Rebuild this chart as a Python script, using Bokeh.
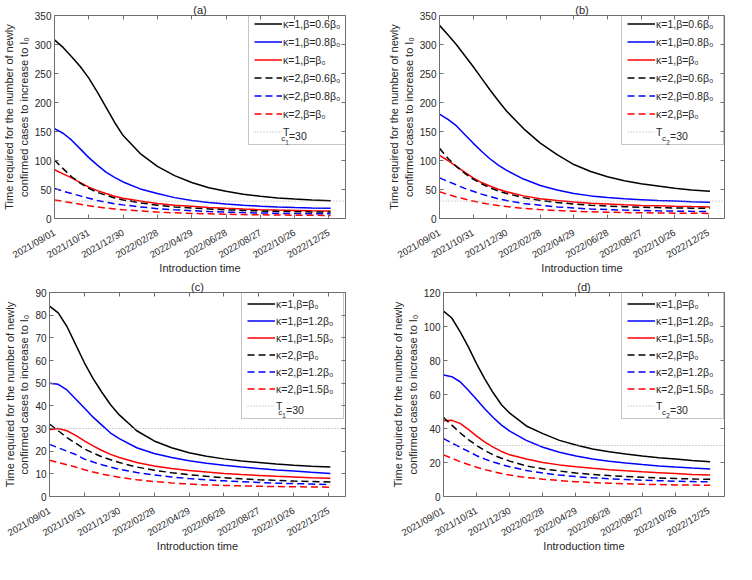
import math
import pandas as pd
from bokeh.plotting import figure
from bokeh.layouts import column, row
from bokeh.models import (Range1d, FixedTicker, DatetimeTickFormatter, LinearAxis,
                          DatetimeAxis, Legend, LegendItem, Label)
from bokeh.embed import file_html
from bokeh.resources import INLINE

# ---------------- data ----------------
START = "2021-09-01"
DAYS = [0, 15, 30, 45, 60, 75, 90, 105, 120, 150, 180, 210, 240, 270, 300, 330, 360, 390, 420, 450, 483]
X_END_DAYS = 509
TICK_LABELS = ["2021/09/01", "2021/10/31", "2021/12/30", "2022/02/28", "2022/04/29",
               "2022/06/28", "2022/08/27", "2022/10/26", "2022/12/25"]
TC = 30

LABELS_AB = ["κ=1,β=0.6β₀", "κ=1,β=0.8β₀", "κ=1,β=β₀", "κ=2,β=0.6β₀", "κ=2,β=0.8β₀", "κ=2,β=β₀"]
LABELS_CD = ["κ=1,β=β₀", "κ=1,β=1.2β₀", "κ=1,β=1.5β₀", "κ=2,β=β₀", "κ=2,β=1.2β₀", "κ=2,β=1.5β₀"]

A_S1 = [308, 295, 279, 262, 242, 218, 192, 166, 143, 112, 90, 74, 62, 53, 47, 42, 38.5, 35.5, 33.5, 32, 30.5]
A_S2 = [155, 147, 135, 120, 105, 92, 80, 71, 63, 51, 43, 36, 31, 27.5, 25, 23, 21.3, 20, 19, 18.3, 17.8]
A_S3 = [84, 77, 70, 62, 54, 48, 43, 38.5, 35, 30, 26, 23, 21, 19, 17.5, 16.3, 15.3, 14.5, 14, 13.5, 13]
A_D1 = [101, 86, 72, 61, 52, 45, 40, 35.5, 32, 27, 23, 20, 18, 16.5, 15, 14, 13, 12.3, 11.8, 11.3, 11]
A_D2 = [52, 47, 43, 39, 35, 31, 28, 25.5, 23.5, 20, 17, 15, 13.5, 12, 11, 10.2, 9.5, 9, 8.5, 8.2, 8]
A_D3 = [32, 29.5, 27, 24.5, 22, 20, 18, 16.5, 15, 13, 11, 9.8, 8.8, 8, 7.3, 6.8, 6.3, 6, 5.7, 5.5, 5.3]

B_S1 = [333, 317, 300, 281, 262, 242, 222, 203, 185, 155, 130, 110, 93, 81, 72, 65, 60, 56, 52, 49, 47]
B_S2 = [180, 171, 160, 145, 130, 116, 103, 92, 83, 68, 57, 49, 43, 39, 36, 34, 32.5, 31, 30, 29, 28]
B_S3 = [109, 100, 90, 80, 70, 62, 56, 50.5, 46, 39, 34, 31, 28.5, 26.5, 25, 23.5, 22.5, 21.8, 21, 20.5, 20]
B_D1 = [121, 104, 90, 78, 68, 60, 53, 47.5, 43, 36, 31, 27.5, 25, 23, 21.5, 20.3, 19.5, 18.8, 18.2, 17.8, 17.5]
B_D2 = [70, 64, 58, 52, 47, 42, 38, 34, 31, 26, 23, 20, 18, 16.5, 15.3, 14.5, 13.8, 13.2, 12.7, 12.3, 12]
B_D3 = [46, 41.5, 37, 33.5, 30, 27, 24.5, 22.3, 20.5, 17.5, 15.3, 13.7, 12.5, 11.5, 10.8, 10.2, 9.8, 9.5, 9.2, 9, 8.8]

C_S1 = [84, 81, 75, 67, 59, 52, 46, 40.5, 36, 29, 24.5, 21.5, 19.3, 17.8, 16.6, 15.7, 15, 14.3, 13.8, 13.4, 13]
C_S2 = [50, 49.5, 47, 43, 39, 35, 31.5, 28, 25.5, 21.5, 19, 17.2, 15.8, 14.7, 13.8, 13, 12.3, 11.7, 11.2, 10.7, 10.2]
C_S3 = [29.5, 30, 29, 27, 24.5, 22.3, 20.3, 18.6, 17.2, 15, 13.5, 12.4, 11.5, 10.8, 10.2, 9.7, 9.3, 8.9, 8.6, 8.3, 8]
C_D1 = [32, 29, 26, 23.5, 21, 19.2, 17.5, 16.2, 15, 13, 11.6, 10.5, 9.6, 8.9, 8.3, 7.8, 7.4, 7.1, 6.8, 6.6, 6.4]
C_D2 = [23, 21.5, 20, 18.5, 16.5, 15.2, 14, 13, 12, 10.6, 9.5, 8.6, 7.9, 7.3, 6.9, 6.5, 6.2, 5.9, 5.7, 5.5, 5.3]
C_D3 = [16, 15, 14, 13, 11.8, 10.8, 9.9, 9.2, 8.5, 7.4, 6.6, 6, 5.5, 5.1, 4.9, 4.7, 4.5, 4.4, 4.3, 4.2, 4.1]

D_S1 = [109, 105, 97, 88, 78, 69, 61, 54, 49, 41.5, 37, 33, 30.3, 28, 26.3, 25, 23.8, 22.8, 22, 21.2, 20.5]
D_S2 = [71.5, 70.5, 67.5, 62.5, 57, 51.5, 46.5, 42, 38.5, 33, 29, 26, 23.8, 22, 20.7, 19.7, 18.8, 18, 17.3, 16.7, 16.2]
D_S3 = [44.5, 44.8, 43, 39.5, 35.5, 32, 29, 26.5, 24.5, 22, 20, 18.6, 17.5, 16.6, 15.8, 15.1, 14.5, 14, 13.5, 13, 12.6]
D_D1 = [46.5, 42, 37.5, 33.5, 30, 27, 24.5, 22.5, 20.8, 18, 16.3, 15, 13.8, 13, 12.3, 11.8, 11.3, 10.9, 10.6, 10.3, 10.1]
D_D2 = [34, 31.5, 29, 26.5, 24, 22, 20.3, 18.8, 17.5, 15.3, 13.8, 12.6, 11.7, 11, 10.4, 10, 9.6, 9.3, 9, 8.8, 8.6]
D_D3 = [24.5, 22.5, 20.5, 18.8, 17.2, 15.8, 14.6, 13.5, 12.6, 11.2, 10.2, 9.4, 8.7, 8.2, 7.8, 7.5, 7.2, 7, 6.8, 6.7, 6.6]

# ---------------- styling ----------------
FONT = "Liberation Sans"
TXT = "#262626"
AX = "#6e6e6e"
COLORS = ["#000000", "#0000ff", "#ff0000", "#000000", "#0000ff", "#ff0000"]
DASHES = ["solid", "solid", "solid", "7 4", "7 4", "7 4"]

start = pd.Timestamp(START)
xs = [start + pd.Timedelta(days=d) for d in DAYS]
x0 = start
x1 = start + pd.Timedelta(days=X_END_DAYS)
x0_ms = x0.value / 1e6
x1_ms = x1.value / 1e6
tick_ms = [pd.Timestamp(t.replace("/", "-")).value / 1e6 for t in TICK_LABELS]

LEG_PAD, LEG_GW, LEG_STAND, LEG_H, LEG_LW = 5, 28, 1, 15, 62
LEG_W = 2 * LEG_PAD + LEG_GW + LEG_STAND + LEG_LW


def style_axis(ax, labels=True):
    ax.axis_line_color = AX
    ax.major_tick_line_color = AX
    ax.major_tick_in = 4
    ax.major_tick_out = 0
    ax.minor_tick_line_color = None
    ax.major_label_text_font = FONT
    ax.major_label_text_color = TXT
    ax.axis_label_text_font = FONT
    ax.axis_label_text_color = TXT
    ax.axis_label_text_font_style = "normal"
    ax.axis_label_text_font_size = "11px"
    if not labels:
        ax.major_label_text_color = None
        ax.major_label_text_font_size = "1px"
        ax.major_label_standoff = 0


def make_panel(title, ymax, ystep, series, labels, tsub, fw, fh, left_b, right_b, top_b,
               bottom_b, leg_right_gap, leg_top_gap, leg_sp):
    frame_w = fw - left_b - right_b
    frame_h = fh - top_b - bottom_b
    p = figure(width=fw, height=fh, x_axis_type="datetime",
               x_range=Range1d(x0, x1), y_range=Range1d(0, ymax),
               output_backend="svg", toolbar_location=None,
               min_border_left=left_b, min_border_right=right_b,
               min_border_top=top_b, min_border_bottom=bottom_b)
    p.grid.visible = False
    p.outline_line_color = None
    p.background_fill_color = "white"
    p.border_fill_color = "white"

    xt = FixedTicker(ticks=tick_ms)
    yt = FixedTicker(ticks=list(range(0, ymax + 1, ystep)))
    fmt = "%Y/%m/%d"
    dfmt = DatetimeTickFormatter(days=fmt, months=fmt, years=fmt, hours=fmt)

    xa = p.xaxis[0]
    xa.ticker = xt
    xa.formatter = dfmt
    xa.major_label_orientation = math.radians(30)
    xa.major_label_text_font_size = "9.5px"
    xa.major_label_standoff = 13
    xa.axis_label = "Introduction time"
    xa.axis_label_standoff = -6
    style_axis(xa)

    ya = p.yaxis[0]
    ya.ticker = yt
    ya.major_label_text_font_size = "10px"
    ya.major_label_standoff = 3
    ya.axis_label = "Time required for the number of newly\nconfirmed cases to increase to I₀"
    ya.axis_label_standoff = 2
    style_axis(ya)

    # top axis carries the panel title as its label
    top = DatetimeAxis(ticker=xt, formatter=dfmt)
    style_axis(top, labels=False)
    top.axis_label = title
    top.axis_label_standoff = 0
    p.add_layout(top, "above")
    right = LinearAxis(ticker=yt, axis_label=None)
    style_axis(right, labels=False)
    right.axis_label_standoff = 0
    right.axis_label_text_font_size = "0px"
    p.add_layout(right, "right")

    items = []
    for ys, c, d, lab in zip(series, COLORS, DASHES, labels):
        r = p.line(xs, ys, line_color=c, line_width=1.5, line_dash=d)
        items.append(LegendItem(label=lab, renderers=[r]))
    rt = p.line([x0, x1], [TC, TC], line_color="#a8a8a8", line_width=1, line_dash="1 2")
    items.append(LegendItem(label="T", renderers=[rt]))

    leg_height = 7 * LEG_H + 6 * leg_sp + 2 * LEG_PAD
    vx = frame_w - leg_right_gap - LEG_W
    vy = frame_h - leg_top_gap - leg_height
    leg = Legend(items=items, location=(vx, vy), padding=LEG_PAD, spacing=leg_sp,
                 glyph_width=LEG_GW, glyph_height=LEG_H, label_height=LEG_H,
                 label_width=LEG_LW, label_standoff=LEG_STAND, margin=0,
                 label_text_font=FONT, label_text_font_size="10.5px", label_text_color=TXT,
                 border_line_color="#8c8c8c", border_line_width=1,
                 background_fill_color="white", background_fill_alpha=0.0)
    p.add_layout(leg, "center")

    # subscripts + value of the threshold label
    def dx(px):
        return x0_ms + px / frame_w * (x1_ms - x0_ms)

    def dy(py):
        return py / frame_h * ymax

    cy = vy + LEG_PAD + LEG_H / 2
    tx = vx + LEG_PAD + LEG_GW + LEG_STAND + 6.5
    common = dict(text_font=FONT, text_color=TXT, text_baseline="middle", text_align="left")
    p.add_layout(Label(x=dx(tx), y=dy(cy - 3), text="c", text_font_size="8px", **common))
    p.add_layout(Label(x=dx(tx + 4.2), y=dy(cy - 6.5), text=tsub, text_font_size="6.5px", **common))
    p.add_layout(Label(x=dx(tx + 8), y=dy(cy), text="=" + str(TC), text_font_size="10.5px", **common))
    return p


pa = make_panel("(a)", 350, 50, [A_S1, A_S2, A_S3, A_D1, A_D2, A_D3], LABELS_AB, "1",
                364, 276, 44, 19, 14, 52, 6, 4, 3)
pb = make_panel("(b)", 350, 50, [B_S1, B_S2, B_S3, B_D1, B_D2, B_D3], LABELS_AB, "2",
                364, 276, 75, 4, 14, 52, 2, 4, 3)
pc = make_panel("(c)", 90, 10, [C_S1, C_S2, C_S3, C_D1, C_D2, C_D3], LABELS_CD, "1",
                364, 278, 44, 19, 16, 52, 8, 6, 2)
pd_ = make_panel("(d)", 120, 20, [D_S1, D_S2, D_S3, D_D1, D_D2, D_D3], LABELS_CD, "2",
                 364, 278, 79, 4, 16, 52, 2, 6, 2)

layout = column(row(pa, pb), row(pc, pd_))

open("out.html", "w").write(file_html(layout, INLINE))
